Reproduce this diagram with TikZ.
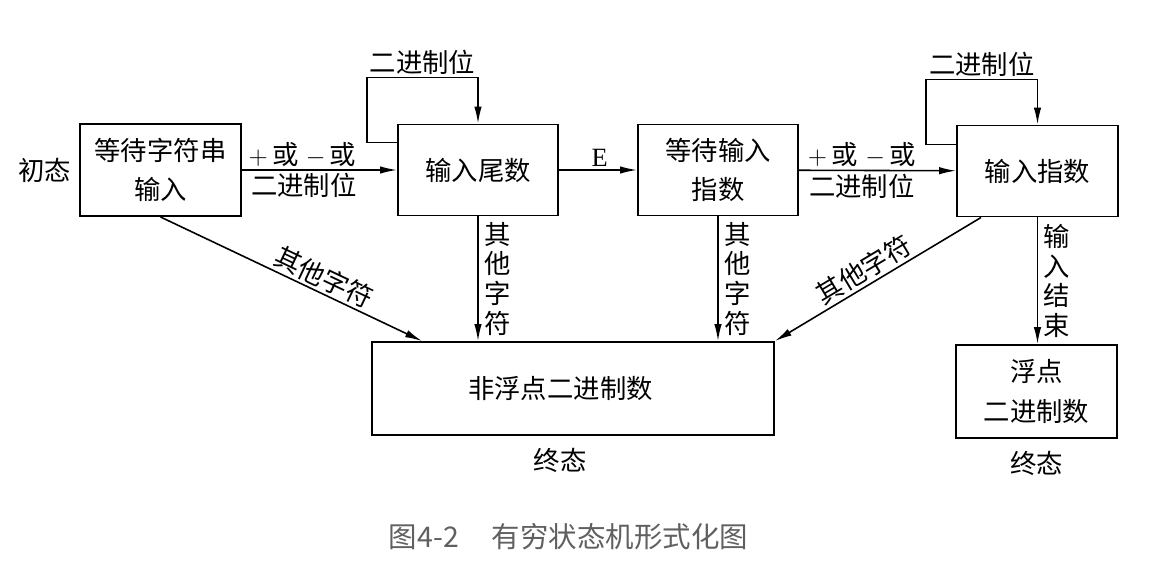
\documentclass[tikz,border=0pt]{standalone}
\usepackage{fontspec}
\setmainfont{Noto Sans CJK SC}
\newfontfamily\latinserif{Liberation Serif}
\usetikzlibrary{positioning,arrows.meta}
\definecolor{captiongray}{RGB}{96,96,96}
\tikzset{
  flowarrow/.style={-{Latex[length=3.4mm,width=1.5mm]}, line width=0.9pt},
  statebox/.style={draw, line width=1.1pt, minimum width=3.2cm, minimum height=1.82cm, align=center, font=\fontsize{15pt}{22.5pt}\selectfont},
  widebox/.style={statebox, minimum width=8.04cm, minimum height=1.86cm},
  edgelabel/.style={font=\fontsize{15pt}{18pt}\selectfont, inner sep=1.5pt},
  vlabel/.style={right, inner sep=3pt, align=center, font=\fontsize{15pt}{16.8pt}\selectfont},
  statelabel/.style={font=\fontsize{15pt}{18pt}\selectfont, inner sep=1pt}
}

\begin{document}
\begin{tikzpicture}[>=Latex]
  \useasboundingbox (0,0) rectangle (23,11.36);
  % states
  \node[statebox, minimum width=3.22cm, minimum height=1.84cm] (waitstr) at (3.21,7.96) {等待字符串\\输入};
  \node[statebox] (mant) at (9.56,7.96) {输入尾数};
  \node[statebox] (waitexp) at (14.36,7.96) {等待输入\\指数};
  \node[statebox, minimum width=3.22cm] (expo) at (20.75,7.94) {输入指数};
  \node[widebox] (nonfloat) at (11.46,3.59) {非浮点二进制数\hspace*{0.5cm}};
  \node[statebox, minimum width=3.22cm, minimum height=1.86cm] (floatnum) at (20.73,3.53) {浮点\\二进制数};
  \node[statelabel, left=0.12cm of waitstr] (init) {初态};
  \node[statelabel, below=0.2cm of nonfloat, xshift=-0.26cm] (finalA) {终态};
  \node[statelabel, below=0.2cm of floatnum] (finalB) {终态};
  % top row
  \draw[flowarrow] (waitstr) -- node[edgelabel, above, pos=0.39]{$+$\,或\;$-$\,或} node[edgelabel, below, pos=0.4]{二进制位} (mant);
  \draw[flowarrow] (mant) -- node[edgelabel, above, pos=0.52]{\latinserif E} (waitexp);
  \draw[flowarrow] (waitexp) -- node[edgelabel, above, pos=0.4]{$+$\,或\;$-$\,或} node[edgelabel, below, pos=0.4]{二进制位} (expo);
  % self loops
  \draw[flowarrow] ([yshift=-0.38cm]mant.north west) -- ++(-0.6,0) |- ([yshift=0.92cm]mant.north) node[edgelabel, above, pos=0.75]{二进制位} -- (mant.north);
  \draw[flowarrow] ([yshift=-0.4cm]expo.north west) -- ++(-0.6,0) |- ([yshift=0.9cm]expo.north) node[edgelabel, above, pos=0.75]{二进制位} -- (expo.north);
  % to final states
  \draw[flowarrow] (waitstr.south) -- node[edgelabel, sloped, above, pos=0.6]{其他字符} ([xshift=1.02cm]nonfloat.north west);
  \draw[flowarrow] (mant.south) -- node[vlabel]{其\\他\\字\\符} (mant.south |- nonfloat.north);
  \draw[flowarrow] (waitexp.south) -- node[vlabel]{其\\他\\字\\符} (waitexp.south |- nonfloat.north);
  \draw[flowarrow] ([xshift=0.5cm]expo.south west) -- node[edgelabel, sloped, above, pos=0.53]{其他字符} (nonfloat.north east);
  \draw[flowarrow] (expo.south) -- node[vlabel]{输\\入\\结\\束} (expo.south |- floatnum.north);
  % caption
  \node[font=\fontsize{16.2pt}{19pt}\selectfont, text=captiongray] (caption) at (11.37,0.62) {图4-2\hspace{0.66cm}有穷状态机形式化图};
\end{tikzpicture}
\end{document}
